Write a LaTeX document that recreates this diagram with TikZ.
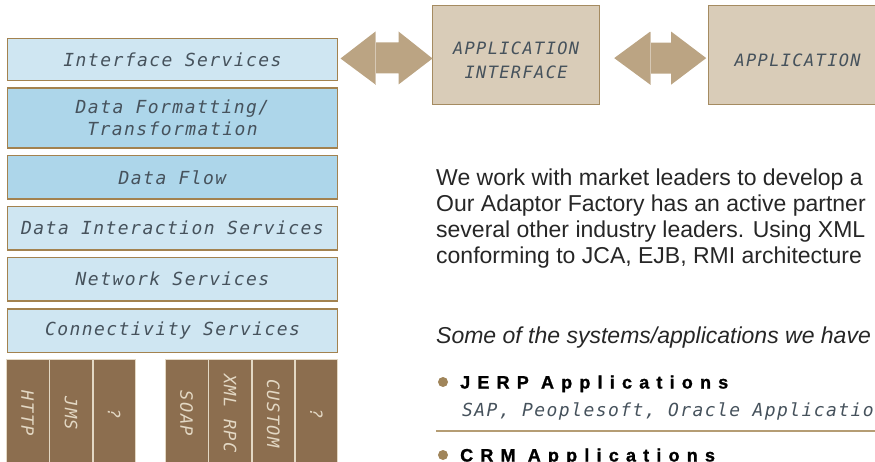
\documentclass[tikz,border=0pt]{standalone}
\usepackage{fontspec}
\setmainfont{Liberation Sans}
\newfontfamily\stackfont[LetterSpace=8]{DejaVu Sans Mono}
\newfontfamily\headfont[LetterSpace=40,FakeBold=1.2]{Liberation Sans}
\usetikzlibrary{positioning,calc}

\definecolor{paleblue}{HTML}{CFE6F2}
\definecolor{midblue}{HTML}{ADD6EA}
\definecolor{boxrim}{HTML}{A3824F}
\definecolor{apptan}{HTML}{D9CCB8}
\definecolor{apprim}{HTML}{A58B61}
\definecolor{arrowtan}{HTML}{BBA483}
\definecolor{protobrown}{HTML}{8C6E4F}
\definecolor{protoline}{HTML}{E3D8C4}
\definecolor{slate}{HTML}{46525C}
\definecolor{rulebrown}{HTML}{B59D74}
\definecolor{dotbrown}{HTML}{A0855A}

\tikzset{
  layer/.style={draw=boxrim, line width=1.5pt, minimum width=330pt, minimum height=43.5pt,
    inner sep=0pt, align=center, text=slate,
    font=\stackfont\itshape\fontsize{18}{21.5}\selectfont},
  lightlayer/.style={layer, fill=paleblue},
  darklayer/.style={layer, fill=midblue},
  appbox/.style={draw=apprim, line width=1.2pt, fill=apptan, minimum height=99pt,
    inner sep=0pt},
  applabel/.style={align=center, inner sep=0pt, text=slate,
    font=\stackfont\itshape\fontsize{17}{24}\selectfont},
  proto/.style={draw=protoline, line width=0.8pt, fill=protobrown,
    minimum width=42.5pt, minimum height=108pt, inner sep=0pt},
  protolabel/.style={rotate=-90, inner sep=0pt, text=protoline,
    font=\stackfont\itshape\fontsize{17}{20}\selectfont},
  bodytext/.style={anchor=base west, inner sep=0pt, text=black!85,
    font=\fontsize{23}{26}\selectfont},
  heading/.style={anchor=base west, inner sep=0pt, text=black,
    font=\headfont\bfseries\fontsize{18}{20}\selectfont},
  subtext/.style={anchor=base west, inner sep=0pt, text=slate,
    font=\stackfont\itshape\fontsize{18}{21}\selectfont},
  bullet/.style={circle, fill=dotbrown, minimum size=10pt, inner sep=0pt},
  bigarrow/.style={fill=arrowtan},
}

\begin{document}
\begin{tikzpicture}[x=1pt,y=-1pt]
\useasboundingbox (0,0) rectangle (875,462);
\clip (0,0) rectangle (875,462);

% layer stack
\node[lightlayer, anchor=north west, minimum height=42pt] (iface) at (6.75,37.75) {Interface Services};
\node[darklayer, below=6pt of iface, minimum height=60pt] (format) {Data Formatting/\\Transformation};
\node[darklayer, below=6pt of format] (flow) {Data Flow};
\node[lightlayer, below=6pt of flow] (interact) {Data Interaction Services};
\node[lightlayer, below=6pt of interact] (network) {Network Services};
\node[lightlayer, below=6.5pt of network] (connect) {Connectivity Services};

% protocol columns
\node[proto, anchor=north west] (http) at (6,359) {};
\node[proto, right=0pt of http] (jms) {};
\node[proto, right=0pt of jms] (unkA) {};
\node[proto, anchor=north west] (soap) at (165,359) {};
\node[proto, right=0pt of soap] (xmlrpc) {};
\node[proto, right=0pt of xmlrpc] (custom) {};
\node[proto, right=0pt of custom] (unkB) {};
\node[protolabel] (httpl) at (http) {HTTP};
\node[protolabel] (jmsl) at (jms) {JMS};
\node[protolabel] (unkAl) at (unkA) {?};
\node[protolabel] (soapl) at (soap) {SOAP};
\node[protolabel] (xmlrpcl) at (xmlrpc) {XML RPC};
\node[protolabel] (customl) at (custom) {CUSTOM};
\node[protolabel] (unkBl) at (unkB) {?};

% application boxes
\node[appbox, anchor=north west, minimum width=167pt] (appif) at (432,5) {};
\node[appbox, anchor=north west, minimum width=178pt] (app) at (708,5) {};
\node[applabel] (appifl) at ($(appif.center)+(0,5)$) {APPLICATION\\INTERFACE};
\node[applabel] (appl) at ($(app.center)+(0,5)$) {APPLICATION};

% double arrows
\fill[bigarrow] ($(iface.east)+(2.25,-1)$) -- ++(35,-27) -- ++(0,11) -- ++(23,0) -- ++(0,-11)
  -- ++(34,27) -- ++(-34,26) -- ++(0,-11) -- ++(-23,0) -- ++(0,11) -- cycle;
\draw[arrowtan!60!white, line width=0.6pt] ($(iface.east)+(37.25,-27)$) -- ++(0,53);
\fill[bigarrow] ($(appif.east)+(14,3)$) -- ++(36,-26.5) -- ++(0,11) -- ++(21,0) -- ++(0,-11)
  -- ++(35,26.5) -- ++(-35,26.5) -- ++(0,-11) -- ++(-21,0) -- ++(0,11) -- cycle;
\draw[arrowtan!60!white, line width=0.6pt] ($(appif.east)+(50,-23.5)$) -- ++(0,53);

% text column
\node[bodytext] (introA) at (436,186) {We work with market leaders to develop a};
\node[bodytext] (introB) at (436,212) {Our Adaptor Factory has an active partner};
\node[bodytext] (introC) at (436,238) {several other industry leaders. Using XML};
\node[bodytext] (introD) at (436,264) {conforming to JCA, EJB, RMI architecture};
\node[bodytext, font=\itshape\fontsize{23}{26}\selectfont] (some) at (436,343) {Some of the systems/applications we have};

\node[bullet] (dotA) at (443,382) {};
\node[heading] (erp) at (460,388.5) {JERP Applications};
\node[subtext] (erpsub) at (462,416) {SAP, Peoplesoft, Oracle Applicatio};
\draw[rulebrown, line width=1.5pt] (436,431) -- (875,431);
\node[bullet] (dotB) at (443,455) {};
\node[heading] (crm) at (460,461.5) {CRM Applications};
\end{tikzpicture}
\end{document}
